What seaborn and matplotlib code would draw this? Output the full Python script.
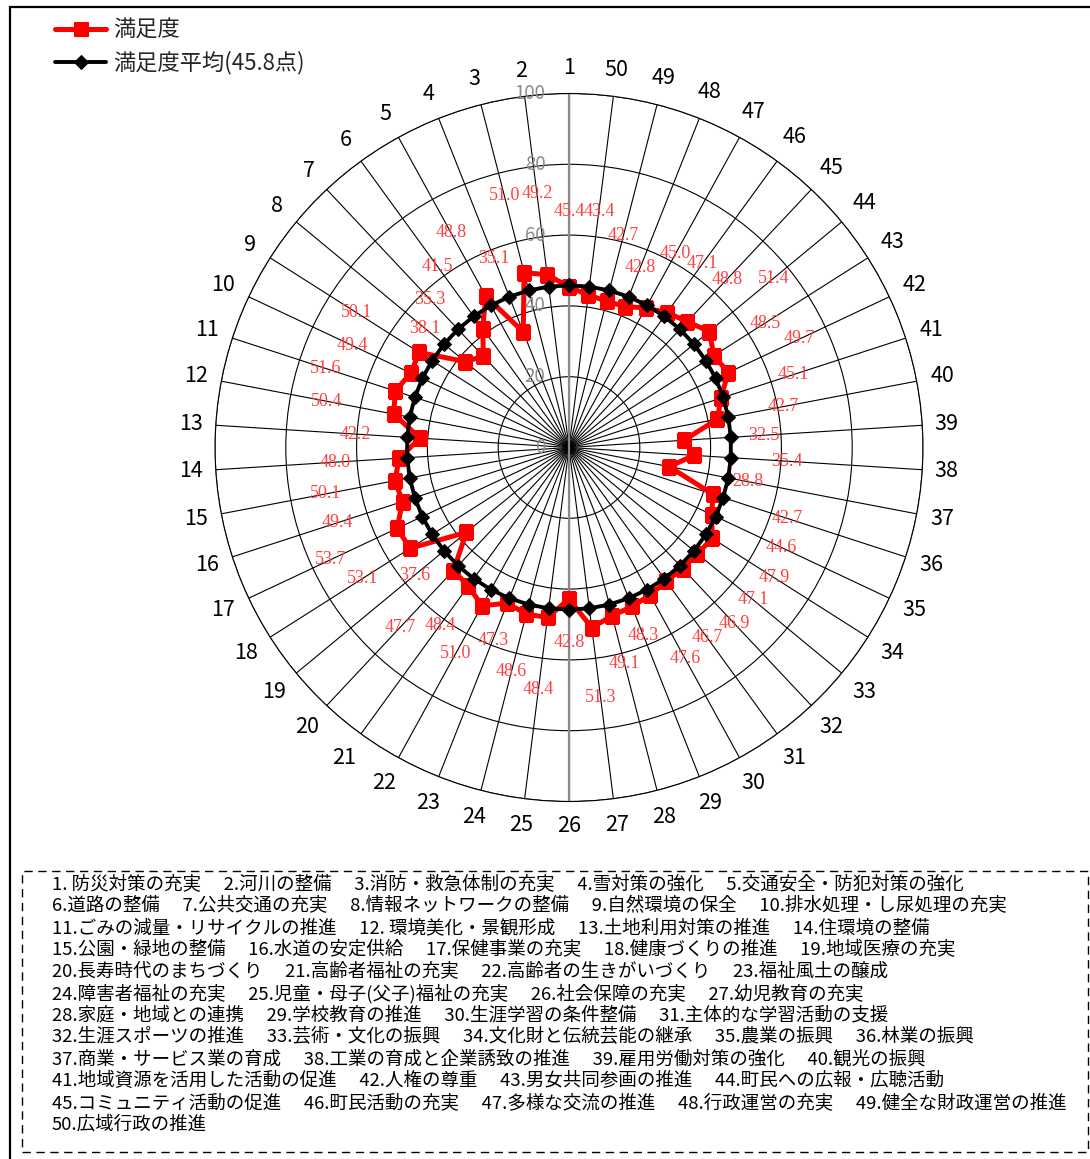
import numpy as np
import pandas as pd
import matplotlib
matplotlib.use('Agg')
import matplotlib.pyplot as plt
import seaborn as sns
from matplotlib.patches import Rectangle

# ---------------- data ----------------
categories = [str(i) for i in range(1, 51)]
satisfaction = [45.4, 49.2, 51.0, 35.1, 48.8, 41.5, 35.3, 38.1, 50.1, 49.4,
                51.6, 50.4, 42.2, 48.0, 50.1, 49.4, 53.7, 53.1, 37.6, 47.7,
                48.4, 51.0, 47.3, 48.6, 48.4, 42.8, 51.3, 49.1, 48.3, 47.6,
                46.7, 46.9, 47.1, 47.9, 44.6, 42.7, 28.8, 35.4, 32.5, 42.7,
                45.1, 49.7, 48.5, 51.4, 48.8, 47.1, 45.0, 42.8, 42.7, 43.4]
average_value = 45.8
ring_ticks = [0, 20, 40, 60, 80, 100]
series_names = ['満足度', '満足度平均(45.8点)']
item_rows = [
    ["1. 防災対策の充実", "2.河川の整備", "3.消防・救急体制の充実", "4.雪対策の強化", "5.交通安全・防犯対策の強化"],
    ["6.道路の整備", "7.公共交通の充実", "8.情報ネットワークの整備", "9.自然環境の保全", "10.排水処理・し尿処理の充実"],
    ["11.ごみの減量・リサイクルの推進", "12. 環境美化・景観形成", "13.土地利用対策の推進", "14.住環境の整備"],
    ["15.公園・緑地の整備", "16.水道の安定供給", "17.保健事業の充実", "18.健康づくりの推進", "19.地域医療の充実"],
    ["20.長寿時代のまちづくり", "21.高齢者福祉の充実", "22.高齢者の生きがいづくり", "23.福祉風土の醸成"],
    ["24.障害者福祉の充実", "25.児童・母子(父子)福祉の充実", "26.社会保障の充実", "27.幼児教育の充実"],
    ["28.家庭・地域との連携", "29.学校教育の推進", "30.生涯学習の条件整備", "31.主体的な学習活動の支援"],
    ["32.生涯スポーツの推進", "33.芸術・文化の振興", "34.文化財と伝統芸能の継承", "35.農業の振興", "36.林業の振興"],
    ["37.商業・サービス業の育成", "38.工業の育成と企業誘致の推進", "39.雇用労働対策の強化", "40.観光の振興"],
    ["41.地域資源を活用した活動の促進", "42.人権の尊重", "43.男女共同参画の推進", "44.町民への広報・広聴活動"],
    ["45.コミュニティ活動の促進", "46.町民活動の充実", "47.多様な交流の推進", "48.行政運営の充実", "49.健全な財政運営の推進"],
    ["50.広域行政の推進"],
]

# layout: radius (in value units) where each data label sits
label_radius = [66.8, 72.3, 73.6, 57.3, 69.3, 63.3, 57.3, 52.9, 71.2, 67.7,
                72.3, 69.6, 60.6, 66.2, 70.1, 68.8, 74.5, 69.2, 56.6, 69.7,
                62.0, 66.4, 58.5, 65.2, 69.0, 55.2, 71.3, 63.1, 57.0, 68.0,
                66.3, 68.2, 67.5, 68.7, 66.4, 64.9, 51.3, 61.7, 55.0, 61.5,
                66.5, 72.0, 65.6, 75.0, 65.2, 64.1, 62.4, 54.8, 61.9, 67.3]

# ---------------- style ----------------
sns.set_style('white')
plt.rcParams['font.family'] = ['Noto Sans CJK JP', 'DejaVu Sans']

W, H = 1090, 1159
fig = plt.figure(figsize=(W / 100, H / 100), dpi=100)
fig.patch.set_facecolor('white')

cx, cy, R = 569, 447.5, 354
ax = fig.add_axes([(cx - R) / W, (H - cy - R) / H, 2 * R / W, 2 * R / H], projection='polar')
ax.set_theta_offset(np.pi / 2)
ax.set_theta_direction(1)

n = len(categories)
theta = np.arange(n) * 2 * np.pi / n
theta_closed = np.append(theta, 2 * np.pi)

df_sat = pd.DataFrame({'theta': theta_closed, 'value': satisfaction + [satisfaction[0]]})
df_avg = pd.DataFrame({'theta': theta_closed, 'value': [average_value] * (n + 1)})

# gray value axis
ax.plot([0, 0], [0, 100], color='#8a8a8a', lw=1.6, zorder=1.5)
ax.plot([np.pi, np.pi], [0, 100], color='#8a8a8a', lw=1.6, zorder=1.5)

sns.lineplot(data=df_sat, x='theta', y='value', ax=ax, sort=False, estimator=None,
             color='#ff0000', lw=3.6, marker='s', markersize=9.5,
             markeredgecolor='#ff0000', legend=False, zorder=3)
sns.lineplot(data=df_avg, x='theta', y='value', ax=ax, sort=False, estimator=None,
             color='black', lw=2.8, marker='D', markersize=7.5,
             markeredgecolor='black', legend=False, zorder=4)

ax.set_xlabel('')
ax.set_ylabel('')
ax.set_ylim(0, 100)
ax.set_xticks(theta)
ax.set_xticklabels([])
ax.set_yticks(ring_ticks[1:])
ax.set_yticklabels([])
ax.grid(True, color='black', lw=0.8)
ax.spines['polar'].set_color('black')
ax.spines['polar'].set_linewidth(0.8)
ax.set_facecolor('none')

# ring labels
for v in ring_ticks:
    ax.annotate(str(v), xy=(0, v), xytext=(-17, 0), textcoords='offset points',
                ha='right', va='center', color='#8c8c8c', fontsize=13.5, zorder=5)

# data labels
for t, v, lr in zip(theta, satisfaction, label_radius):
    ax.text(t, lr, f'{v:.1f}', ha='center', va='center', color='#ff4040',
            fontsize=13, family='Liberation Serif', zorder=6)

# category numbers
px = R / 100.0
for t, c in zip(theta, categories):
    w = len(c) * 11.5
    h = 26
    s, co = abs(np.sin(t)), abs(np.cos(t))
    rpx = R + 12 + s * w / 2 + co * h / 2
    ax.text(t, rpx / px, c, ha='center', va='center', fontsize=15.5, color='black',
            clip_on=False)

# legend
handles = [ax.lines[2], ax.lines[3]]
fig.legend(handles, series_names, loc='upper left',
           bbox_to_anchor=(55 / W, 1 - 19 / H), frameon=False, fontsize=16,
           handlelength=2.3, handletextpad=0.3, labelspacing=0.4,
           borderpad=0, borderaxespad=0, numpoints=1)

# outer chart border
fig.add_artist(Rectangle((10 / W, -5 / H), (W + 20) / W, (H - 7 + 5) / H,
                         transform=fig.transFigure, fill=False, ec='black', lw=1.6))
# dashed box
fig.add_artist(Rectangle((22 / W, (H - 1152) / H), (1088 - 22) / W, (1152 - 870.7) / H,
                         transform=fig.transFigure, fill=False, ec='black', lw=1.0,
                         ls=(0, (6, 4))))

for k, row in enumerate(item_rows):
    fig.text(52 / W, 1 - (884 + 21.9 * k) / H, '\u3000 '.join(row), ha='left', va='center',
             fontsize=13.3, color='black')

fig.savefig('out.png', dpi=100)
